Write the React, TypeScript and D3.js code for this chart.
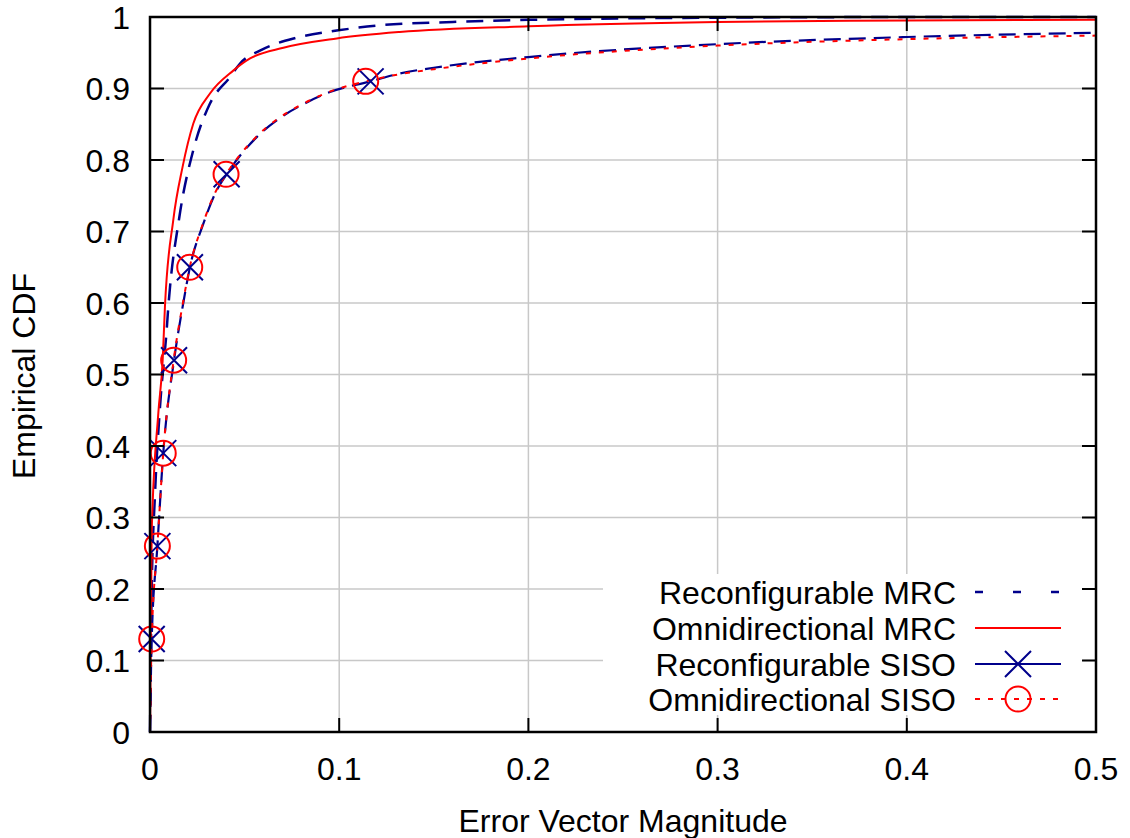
import React from "react";
import * as d3 from "d3";

const xTicks = [0, 0.1, 0.2, 0.3, 0.4, 0.5];
const yTicks = [0, 0.1, 0.2, 0.3, 0.4, 0.5, 0.6, 0.7, 0.8, 0.9, 1];

const reconfMrcX = [0, 0.0009, 0.0026, 0.0053, 0.0088, 0.0097, 0.0155, 0.0229, 0.0317, 0.0423, 0.0476, 0.0581, 0.0775, 0.0987, 0.1198, 0.16, 0.2, 0.25, 0.3, 0.4, 0.5];
const reconfMrcY = [0, 0.2, 0.33, 0.455, 0.562, 0.595, 0.72, 0.814, 0.879, 0.916, 0.935, 0.953, 0.971, 0.981, 0.988, 0.993, 0.996, 0.998, 0.999, 1.0, 1.0];

const omniMrcX = [0, 0.0009, 0.0044, 0.0067, 0.0079, 0.0123, 0.0172, 0.0229, 0.0317, 0.044, 0.0529, 0.0705, 0.0987, 0.132, 0.2, 0.3, 0.4, 0.5];
const omniMrcY = [0, 0.28, 0.446, 0.52, 0.595, 0.716, 0.79, 0.851, 0.893, 0.925, 0.942, 0.957, 0.97, 0.979, 0.987, 0.993, 0.995, 0.996];

const reconfSisoX = [0, 0.0009, 0.0039, 0.007, 0.0127, 0.0176, 0.0211, 0.0282, 0.0344, 0.0405, 0.0564, 0.0705, 0.081, 0.0951, 0.1166, 0.132, 0.15, 0.2, 0.3, 0.4, 0.5];
const reconfSisoY = [0, 0.13, 0.26, 0.39, 0.52, 0.6, 0.65, 0.711, 0.753, 0.78, 0.832, 0.862, 0.878, 0.895, 0.91, 0.921, 0.929, 0.944, 0.962, 0.972, 0.978];

const omniSisoX = [0, 0.0009, 0.0039, 0.007, 0.0125, 0.0174, 0.021, 0.028, 0.0342, 0.0402, 0.056, 0.07, 0.0805, 0.0945, 0.114, 0.132, 0.15, 0.2, 0.3, 0.4, 0.5];
const omniSisoY = [0, 0.13, 0.26, 0.39, 0.52, 0.6, 0.65, 0.711, 0.753, 0.78, 0.832, 0.862, 0.878, 0.895, 0.91, 0.92, 0.927, 0.942, 0.96, 0.969, 0.974];

const reconfSisoMarkX = [0.0009, 0.0039, 0.007, 0.0127, 0.0211, 0.0405, 0.1166];
const reconfSisoMarkY = [0.13, 0.26, 0.39, 0.52, 0.65, 0.78, 0.91];
const omniSisoMarkX = [0.0009, 0.0039, 0.007, 0.0125, 0.021, 0.0402, 0.114];
const omniSisoMarkY = [0.13, 0.26, 0.39, 0.52, 0.65, 0.78, 0.91];

const legendLabels = ["Reconfigurable MRC", "Omnidirectional MRC", "Reconfigurable SISO", "Omnidirectional SISO"];

const NAVY = "#00008b";
const RED = "#ff0000";
const FONT = "'Liberation Sans', Arial, sans-serif";
const FS = 32;

const zip = (xs: number[], ys: number[]) => xs.map((x, i) => [x, ys[i]] as [number, number]);

export default function App() {
  const W = 1130, H = 838;
  const L = 150, R = 1096, T = 17, B = 732;
  const x = d3.scaleLinear().domain([0, 0.5]).range([L, R]);
  const y = d3.scaleLinear().domain([0, 1]).range([B, T]);
  const line = d3.line<[number, number]>().x(d => x(d[0])).y(d => y(d[1])).curve(d3.curveMonotoneX);

  const series = [
    { label: legendLabels[0], d: zip(reconfMrcX, reconfMrcY), color: NAVY, dash: "17,10", legendDash: "8,30", width: 2.5 },
    { label: legendLabels[1], d: zip(omniMrcX, omniMrcY), color: RED, dash: undefined, legendDash: undefined, width: 2 },
    { label: legendLabels[2], d: zip(reconfSisoX, reconfSisoY), color: NAVY, dash: "17,8", legendDash: undefined, width: 2.2 },
    { label: legendLabels[3], d: zip(omniSisoX, omniSisoY), color: RED, dash: "5,8", legendDash: "5,8", width: 2 },
  ];

  const cross = (cx: number, cy: number, key: string) => (
    <path key={key} d={`M${cx - 13},${cy - 13}L${cx + 13},${cy + 13}M${cx - 13},${cy + 13}L${cx + 13},${cy - 13}`} stroke={NAVY} strokeWidth={2} fill="none" />
  );
  const circ = (cx: number, cy: number, key: string) => (
    <circle key={key} cx={cx} cy={cy} r={12.5} stroke={RED} strokeWidth={2} fill="none" />
  );

  const legRows = [592, 628, 664, 699];
  const legX0 = 975, legX1 = 1061, legTextX = 956;

  return (
    <svg width={W} height={H} style={{ position: "absolute", left: 0, top: 0, background: "#fff" }} fontFamily={FONT}>
      <rect x={0} y={0} width={W} height={H} fill="#fff" />
      {xTicks.filter(t => t > 0 && t < 0.5).map(t => (
        <line key={"gx" + t} x1={x(t)} x2={x(t)} y1={T} y2={B} stroke="#c8c8c8" strokeWidth={1.5} />
      ))}
      {yTicks.filter(t => t > 0 && t < 1).map(t => (
        <line key={"gy" + t} x1={L} x2={R} y1={y(t)} y2={y(t)} stroke="#c8c8c8" strokeWidth={1.5} />
      ))}
      {series.map(s => (
        <path key={s.label} d={line(s.d) || ""} fill="none" stroke={s.color} strokeWidth={s.width} strokeDasharray={s.dash} />
      ))}
      {reconfSisoMarkX.map((v, i) => cross(x(v), y(reconfSisoMarkY[i]), "c" + i))}
      {omniSisoMarkX.map((v, i) => circ(x(v), y(omniSisoMarkY[i]), "o" + i))}
      <rect x={603} y={574} width={480} height={141} fill="#fff" />
      {series.map((s, i) => (
        <g key={"leg" + i}>
          <text x={legTextX} y={legRows[i]} dy="0.36em" textAnchor="end" fontSize={FS} fill="#000">{s.label}</text>
          {i === 2 ? (
            <g>
              <line x1={legX0} x2={legX1} y1={legRows[i]} y2={legRows[i]} stroke={s.color} strokeWidth={s.width} />
              {cross((legX0 + legX1) / 2, legRows[i], "lc")}
            </g>
          ) : (
            <line x1={legX0} x2={legX1} y1={legRows[i]} y2={legRows[i]} stroke={s.color} strokeWidth={s.width} strokeDasharray={s.legendDash} />
          )}
          {i === 3 && circ((legX0 + legX1) / 2, legRows[i], "lo")}
        </g>
      ))}
      {xTicks.filter(t => t > 0 && t < 0.5).map(t => (
        <g key={"tx" + t}>
          <line x1={x(t)} x2={x(t)} y1={B} y2={B - 14} stroke="#000" strokeWidth={2} />
          <line x1={x(t)} x2={x(t)} y1={T} y2={T + 14} stroke="#000" strokeWidth={2} />
        </g>
      ))}
      {yTicks.filter(t => t > 0 && t < 1).map(t => (
        <g key={"ty" + t}>
          <line x1={L} x2={L + 14} y1={y(t)} y2={y(t)} stroke="#000" strokeWidth={2} />
          <line x1={R} x2={R - 14} y1={y(t)} y2={y(t)} stroke="#000" strokeWidth={2} />
        </g>
      ))}
      <rect x={L} y={T} width={R - L} height={B - T} fill="none" stroke="#000" strokeWidth={2.5} />
      {xTicks.map(t => (
        <text key={"lx" + t} x={x(t)} y={780} textAnchor="middle" fontSize={FS} fill="#000">{d3.format("")(t)}</text>
      ))}
      {yTicks.map(t => (
        <text key={"ly" + t} x={130} y={y(t)} dy="0.36em" textAnchor="end" fontSize={FS} fill="#000">{d3.format("")(t)}</text>
      ))}
      <text x={623} y={832} textAnchor="middle" fontSize={FS} fill="#000">Error Vector Magnitude</text>
      <text transform={`translate(35,376) rotate(-90)`} textAnchor="middle" fontSize={FS} fill="#000">Empirical CDF</text>
    </svg>
  );
}
